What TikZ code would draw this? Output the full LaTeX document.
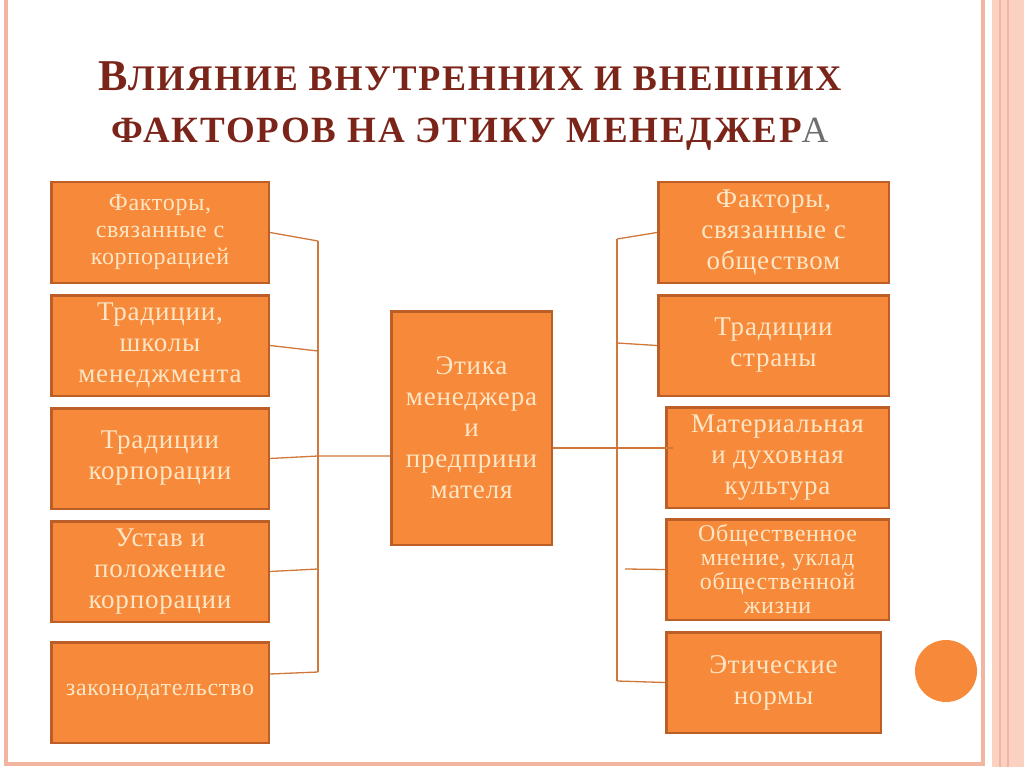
\documentclass[tikz,border=0pt]{standalone}
\usepackage{fontspec}
\setmainfont{Liberation Serif}
\newfontfamily\boxfont[LetterSpace=3]{Liberation Serif}
\newfontfamily\titlefont[LetterSpace=5]{Liberation Serif}
\usetikzlibrary{positioning}
\definecolor{slbox}{HTML}{F68A3A}
\definecolor{slrim}{HTML}{BC5E27}
\definecolor{slcream}{HTML}{FDE6C6}
\definecolor{slwire}{HTML}{D0783A}
\definecolor{sltitle}{HTML}{7B2419}
\definecolor{slgrey}{HTML}{6E6E6E}
\definecolor{slframe}{HTML}{F2B6A0}
\definecolor{slband}{HTML}{FBD2C1}

\begin{document}
\begin{tikzpicture}[x=1pt,y=-1pt,
  fac/.style={draw=slrim,line width=2.5pt,fill=slbox,align=center,text=slcream,
    inner xsep=2pt,inner ysep=0pt,minimum width=217.5pt,minimum height=100.5pt},
  txtbig/.style={font=\boxfont\fontsize{27}{31}\selectfont},
  txtsmall/.style={font=\boxfont\fontsize{24}{27}\selectfont},
  wire/.style={draw=slwire,line width=1.3pt},
  head/.style={font=\titlefont\bfseries,text=sltitle,anchor=base,inner sep=0pt}]
  % slide frame
  \useasboundingbox[fill=white] (0,0) rectangle (1024,767);
  \fill[slband] (992,0) rectangle (1024,767);
  \draw[slframe,line width=1.5pt] (1000,0) -- (1000,767) (1008,0) -- (1008,767);
  \draw[slframe,line width=4pt] (6,0) -- (6,764) -- (983,764) -- (983,0);
  % title
  \node[head] (head1) at (470,91)
    {{\fontsize{44}{44}\selectfont В}\fontsize{36}{36}\selectfont ЛИЯНИЕ ВНУТРЕННИХ И ВНЕШНИХ};
  \node[head] (head2) at (470,143)
    {\fontsize{37}{37}\selectfont ФАКТОРОВ НА ЭТИКУ МЕНЕДЖЕР\textcolor{slgrey}{\mdseries А}};
  % internal factors
  \node[fac,txtsmall,anchor=north west] (L1) at (50,181) {Факторы,\\связанные с\\корпорацией};
  \node[fac,txtbig,below=10pt of L1] (L2) {Традиции,\\школы\\менеджмента};
  \node[fac,txtbig,below=10pt of L2] (L3) {Традиции\\корпорации};
  \node[fac,txtbig,below=10pt of L3] (L4) {Устав и\\положение\\корпорации};
  \node[fac,txtsmall,below=18pt of L4] (L5) {законодательство};
  % centre
  \node[fac,txtbig,anchor=north west,minimum width=160.5pt,minimum height=233.5pt]
    (C) at (390,310) {Этика\\менеджера\\и\\предприни\\мателя};
  % external factors
  \node[fac,txtbig,anchor=north west,minimum width=230.5pt] (R1) at (657,181)
    {Факторы,\\связанные с\\обществом};
  \node[fac,txtbig,minimum width=230.5pt,below=10pt of R1] (R2) {Традиции\\страны};
  \node[fac,txtbig,minimum width=222.5pt,below=9pt of R2.south east,anchor=north east]
    (R3) {Материальная\\и духовная\\культура};
  \node[fac,font=\boxfont\fontsize{24}{24}\selectfont,minimum width=222.5pt,below=9pt of R3] (R4)
    {Общественное\\мнение, уклад\\общественной\\жизни};
  \node[fac,txtbig,minimum width=214.5pt,below=10pt of R4.south west,anchor=north west]
    (R5) {Этические\\нормы};
  \node[circle,fill=slbox,minimum size=62pt] (dot) at (946,671) {};
  % left bracket
  \coordinate (lb1) at (318,241);
  \coordinate (lb2) at (318,351);
  \coordinate (lb3) at (318,456);
  \coordinate (lb4) at (318,569);
  \coordinate (lb5) at (318,672);
  \draw[wire] (lb1) -- (lb5);
  \draw[wire] (L1.east) -- (lb1);
  \draw[wire] (L2.east) -- (lb2);
  \draw[wire] (L3.east) -- (lb3) -- (lb3 -| C.west);
  \draw[wire] (L4.east) -- (lb4);
  \draw[wire] ([yshift=-33pt]L5.north east) -- (lb5);
  % right bracket
  \coordinate (rb1) at (617,239);
  \coordinate (rb2) at (617,343);
  \coordinate (rb3) at (617,448);
  \coordinate (rb4) at (625,569);
  \coordinate (rb5) at (617,681);
  \draw[wire] (rb1) -- (rb5);
  \draw[wire] (rb1) -- (R1.west);
  \draw[wire] (rb2) -- (R2.west);
  \draw[wire] (rb3 -| C.east) -- (rb3) -- ([xshift=8pt]rb3 -| R3.west);
  \draw[wire] (rb4) -- (R4.west);
  \draw[wire] (rb5) -- (R5.west);
\end{tikzpicture}
\end{document}
